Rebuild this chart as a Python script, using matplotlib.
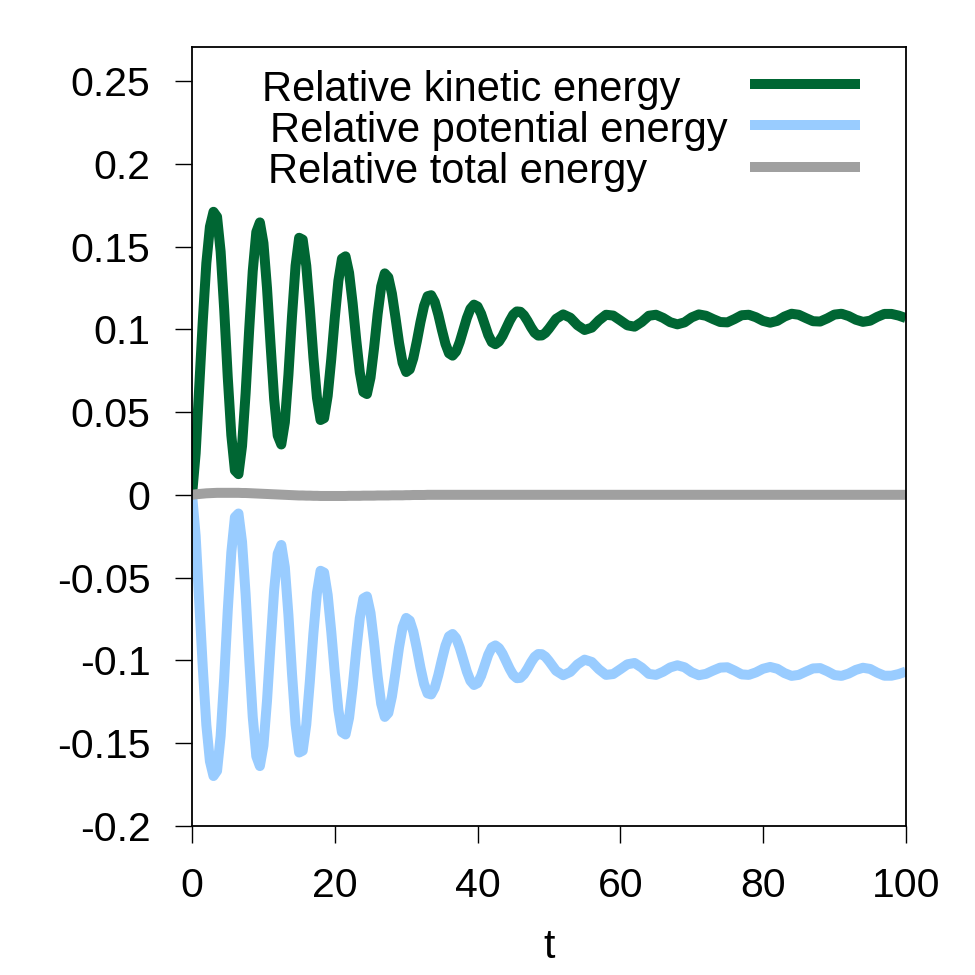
import matplotlib
matplotlib.use("Agg")
import matplotlib.pyplot as plt

plt.rcParams['font.family'] = ['Liberation Sans', 'DejaVu Sans']

# time grid: 0..50 every 0.5, then 51..100 every 1
t = [i * 0.5 for i in range(0, 101)] + list(range(51, 101))

kinetic = [
    0.0000, 0.0250, 0.0650, 0.1050, 0.1400, 0.1620, 0.1710, 0.1680, 0.1470, 0.1120,
    0.0710, 0.0360, 0.0147, 0.0125, 0.0295, 0.0612, 0.0997, 0.1351, 0.1588, 0.1646,
    0.1521, 0.1249, 0.0905, 0.0578, 0.0358, 0.0304, 0.0438, 0.0725, 0.1077, 0.1384,
    0.1553, 0.1542, 0.1384, 0.1123, 0.0830, 0.0586, 0.0452, 0.0463, 0.0598, 0.0819,
    0.1071, 0.1293, 0.1427, 0.1441, 0.1341, 0.1156, 0.0937, 0.0740, 0.0621, 0.0609,
    0.0708, 0.0887, 0.1092, 0.1259, 0.1338, 0.1314, 0.1216, 0.1071, 0.0918, 0.0797,
    0.0742, 0.0758, 0.0826, 0.0929, 0.1043, 0.1141, 0.1200, 0.1206, 0.1166, 0.1089,
    0.0997, 0.0912, 0.0855, 0.0841, 0.0866, 0.0923, 0.0995, 0.1068, 0.1124, 0.1149,
    0.1138, 0.1094, 0.1030, 0.0966, 0.0922, 0.0910, 0.0926, 0.0960, 0.1005, 0.1051,
    0.1089, 0.1108, 0.1106, 0.1085, 0.1051, 0.1012, 0.0979, 0.0962, 0.0963, 0.0978,
    0.1004,
    0.1063, 0.1090, 0.1070, 0.1025, 0.0996, 0.1010, 0.1054, 0.1088, 0.1083, 0.1054,
    0.1024, 0.1016, 0.1044, 0.1082, 0.1088, 0.1069, 0.1043, 0.1030, 0.1042, 0.1072,
    0.1090, 0.1082, 0.1062, 0.1044, 0.1042, 0.1062, 0.1085, 0.1088, 0.1073, 0.1051,
    0.1040, 0.1051, 0.1077, 0.1094, 0.1088, 0.1068, 0.1049, 0.1047, 0.1066, 0.1089,
    0.1094, 0.1080, 0.1058, 0.1045, 0.1052, 0.1075, 0.1093, 0.1093, 0.1083, 0.1068,
]

potential = [
    0.0000, -0.0247, -0.0645, -0.1043, -0.1391, -0.1610, -0.1699, -0.1668, -0.1458, -0.1108,
    -0.0698, -0.0348, -0.0135, -0.0113, -0.0284, -0.0601, -0.0987, -0.1342, -0.1580, -0.1639,
    -0.1515, -0.1244, -0.0901, -0.0575, -0.0356, -0.0303, -0.0438, -0.0726, -0.1079, -0.1387,
    -0.1557, -0.1546, -0.1389, -0.1128, -0.0836, -0.0592, -0.0459, -0.0470, -0.0605, -0.0826,
    -0.1078, -0.1300, -0.1434, -0.1448, -0.1347, -0.1162, -0.0943, -0.0746, -0.0626, -0.0614,
    -0.0713, -0.0892, -0.1096, -0.1263, -0.1342, -0.1318, -0.1219, -0.1074, -0.0921, -0.0800,
    -0.0744, -0.0760, -0.0827, -0.0930, -0.1044, -0.1142, -0.1200, -0.1206, -0.1166, -0.1089,
    -0.0997, -0.0912, -0.0855, -0.0841, -0.0866, -0.0923, -0.0995, -0.1068, -0.1124, -0.1149,
    -0.1138, -0.1094, -0.1030, -0.0966, -0.0922, -0.0910, -0.0926, -0.0960, -0.1005, -0.1051,
    -0.1089, -0.1108, -0.1106, -0.1085, -0.1051, -0.1012, -0.0979, -0.0962, -0.0963, -0.0978,
    -0.1004,
    -0.1063, -0.1090, -0.1070, -0.1025, -0.0996, -0.1010, -0.1054, -0.1088, -0.1083, -0.1054,
    -0.1024, -0.1016, -0.1044, -0.1082, -0.1088, -0.1069, -0.1043, -0.1030, -0.1042, -0.1072,
    -0.1090, -0.1082, -0.1062, -0.1044, -0.1042, -0.1062, -0.1085, -0.1088, -0.1073, -0.1051,
    -0.1040, -0.1051, -0.1077, -0.1094, -0.1088, -0.1068, -0.1049, -0.1047, -0.1066, -0.1089,
    -0.1094, -0.1080, -0.1058, -0.1045, -0.1052, -0.1075, -0.1093, -0.1093, -0.1083, -0.1068,
]

total = [
    0.0000, 0.0003, 0.0005, 0.0007, 0.0009, 0.0010, 0.0011, 0.0012, 0.0012, 0.0012,
    0.0012, 0.0012, 0.0012, 0.0012, 0.0011, 0.0011, 0.0010, 0.0009, 0.0008, 0.0007,
    0.0006, 0.0005, 0.0004, 0.0003, 0.0002, 0.0001, 0.0000, -0.0001, -0.0002, -0.0003,
    -0.0004, -0.0004, -0.0005, -0.0005, -0.0006, -0.0006, -0.0007, -0.0007, -0.0007, -0.0007,
    -0.0007, -0.0007, -0.0007, -0.0007, -0.0006, -0.0006, -0.0006, -0.0006, -0.0005, -0.0005,
    -0.0005, -0.0005, -0.0004, -0.0004, -0.0004, -0.0004, -0.0003, -0.0003, -0.0003, -0.0003,
    -0.0002, -0.0002, -0.0001, -0.0001, -0.0001, -0.0001,
] + [0.0] * 85

labels = ["Relative kinetic energy", "Relative potential energy", "Relative total energy"]
colors = ["#006633", "#99ccff", "#a0a0a0"]
xticks = [0, 20, 40, 60, 80, 100]
yticks = [-0.2, -0.15, -0.1, -0.05, 0, 0.05, 0.1, 0.15, 0.2, 0.25]
yticklabels = ["-0.2", "-0.15", "-0.1", "-0.05", "0", "0.05", "0.1", "0.15", "0.2", "0.25"]

fig = plt.figure(figsize=(9.75, 9.75), dpi=100)
ax = fig.add_axes([0.197, 0.153, 0.732, 0.799])

series = [kinetic, potential, total]
for ys, c in zip(series, colors):
    ax.plot(t, ys, color=c, lw=7.2, solid_joinstyle='round', solid_capstyle='butt')

ax.set_xlim(0, 100)
ax.set_ylim(-0.2, 0.2707)
ax.set_xticks(xticks)
ax.set_xticklabels([str(v) for v in xticks])
ax.set_yticks(yticks)
ax.set_yticklabels(yticklabels)
ax.tick_params(axis='both', direction='out', length=12, width=1, labelsize=29.5,
               top=False, right=False)
ax.tick_params(axis='x', pad=18)
ax.tick_params(axis='y', pad=18)
for s in ax.spines.values():
    s.set_linewidth(1.3)
ax.set_xlabel("t", fontsize=29.5, labelpad=16)

# key
text_x = [0.098, 0.109, 0.1064]
key_y = [0.949, 0.896, 0.843]
for lab, c, tx, ky in zip(labels, colors, text_x, key_y):
    ax.text(tx, ky - 0.004, lab, transform=ax.transAxes, fontsize=30, ha='left', va='center')
    ax.plot([0.7815, 0.9356], [ky + 0.003, ky + 0.003], transform=ax.transAxes,
            color=c, lw=7.2, solid_capstyle='butt')

fig.savefig("out.png", dpi=100)
